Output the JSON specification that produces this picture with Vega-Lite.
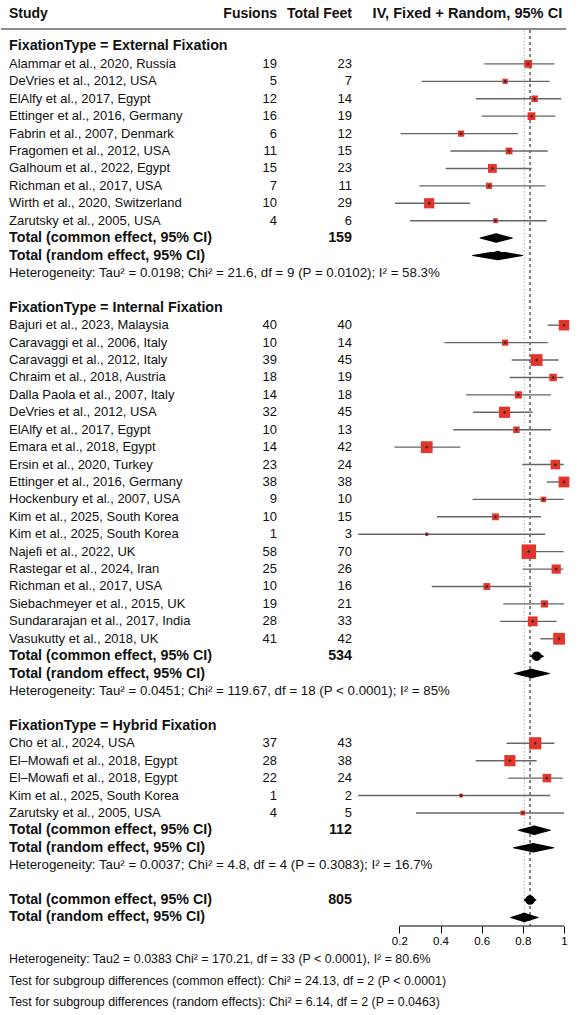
{
  "$schema": "https://vega.github.io/schema/vega-lite/v6.json",
  "background": "white",
  "padding": 0,
  "bounds": "flush",
  "spacing": 0,
  "config": {
    "view": {"stroke": null},
    "font": "Liberation Sans",
    "text": {"font": "Liberation Sans", "color": "#111111", "baseline": "middle"}
  },
  "resolve": {"scale": {"x": "independent", "y": "independent", "size": "independent"}},
  "datasets": {
    "rows": [
      {"kind": "group", "row": 0, "label": "FixationType = External Fixation"},
      {"kind": "study", "row": 1, "label": "Alammar et al., 2020, Russia", "fusions": 19, "total": 23, "est": 0.826, "lo": 0.613, "hi": 0.953, "weight": 2.34},
      {"kind": "study", "row": 2, "label": "DeVries et al., 2012, USA", "fusions": 5, "total": 7, "est": 0.714, "lo": 0.308, "hi": 0.930, "weight": 1.04},
      {"kind": "study", "row": 3, "label": "ElAlfy et al., 2017, Egypt", "fusions": 12, "total": 14, "est": 0.857, "lo": 0.572, "hi": 0.987, "weight": 1.63},
      {"kind": "study", "row": 4, "label": "Ettinger et al., 2016, Germany", "fusions": 16, "total": 19, "est": 0.842, "lo": 0.601, "hi": 0.958, "weight": 2.34},
      {"kind": "study", "row": 5, "label": "Fabrin et al., 2007, Denmark", "fusions": 6, "total": 12, "est": 0.500, "lo": 0.206, "hi": 0.776, "weight": 1.48},
      {"kind": "study", "row": 6, "label": "Fragomen et al., 2012, USA", "fusions": 11, "total": 15, "est": 0.733, "lo": 0.448, "hi": 0.921, "weight": 1.78},
      {"kind": "study", "row": 7, "label": "Galhoum et al., 2022, Egypt", "fusions": 15, "total": 23, "est": 0.652, "lo": 0.425, "hi": 0.843, "weight": 2.98},
      {"kind": "study", "row": 8, "label": "Richman et al., 2017, USA", "fusions": 7, "total": 11, "est": 0.636, "lo": 0.297, "hi": 0.909, "weight": 1.48},
      {"kind": "study", "row": 9, "label": "Wirth et al., 2020, Switzerland", "fusions": 10, "total": 29, "est": 0.345, "lo": 0.179, "hi": 0.543, "weight": 4.0},
      {"kind": "study", "row": 10, "label": "Zarutsky et al., 2005, USA", "fusions": 4, "total": 6, "est": 0.667, "lo": 0.252, "hi": 0.916, "weight": 0.89},
      {"kind": "total", "row": 11, "label": "Total (common effect, 95% CI)", "total": 159},
      {"kind": "total", "row": 12, "label": "Total (random effect, 95% CI)"},
      {"kind": "het", "row": 13, "label": "Heterogeneity: Tau² = 0.0198; Chi² = 21.6, df = 9 (P = 0.0102); I² = 58.3%"},
      {"kind": "group", "row": 15, "label": "FixationType = Internal Fixation"},
      {"kind": "study", "row": 16, "label": "Bajuri et al., 2023, Malaysia", "fusions": 40, "total": 40, "est": 1.0, "lo": 0.921, "hi": 1.0, "weight": 4.24},
      {"kind": "study", "row": 17, "label": "Caravaggi et al., 2006, Italy", "fusions": 10, "total": 14, "est": 0.714, "lo": 0.419, "hi": 0.921, "weight": 1.48},
      {"kind": "study", "row": 18, "label": "Caravaggi et al., 2012, Italy", "fusions": 39, "total": 45, "est": 0.867, "lo": 0.746, "hi": 0.974, "weight": 5.36},
      {"kind": "study", "row": 19, "label": "Chraim et al., 2018, Austria", "fusions": 18, "total": 19, "est": 0.947, "lo": 0.736, "hi": 0.997, "weight": 2.16},
      {"kind": "study", "row": 20, "label": "Dalla Paola et al., 2007, Italy", "fusions": 14, "total": 18, "est": 0.778, "lo": 0.524, "hi": 0.937, "weight": 2.0},
      {"kind": "study", "row": 21, "label": "DeVries et al., 2012, USA", "fusions": 32, "total": 45, "est": 0.711, "lo": 0.558, "hi": 0.848, "weight": 4.82},
      {"kind": "study", "row": 22, "label": "ElAlfy et al., 2017, Egypt", "fusions": 10, "total": 13, "est": 0.769, "lo": 0.462, "hi": 0.937, "weight": 1.63},
      {"kind": "study", "row": 23, "label": "Emara et al., 2018, Egypt", "fusions": 14, "total": 42, "est": 0.333, "lo": 0.176, "hi": 0.496, "weight": 5.36},
      {"kind": "study", "row": 24, "label": "Ersin et al., 2020, Turkey", "fusions": 23, "total": 24, "est": 0.958, "lo": 0.797, "hi": 0.999, "weight": 3.47},
      {"kind": "study", "row": 25, "label": "Ettinger et al., 2016, Germany", "fusions": 38, "total": 38, "est": 1.0, "lo": 0.916, "hi": 1.0, "weight": 4.49},
      {"kind": "study", "row": 26, "label": "Hockenbury et al., 2007, USA", "fusions": 9, "total": 10, "est": 0.9, "lo": 0.556, "hi": 0.998, "weight": 1.16},
      {"kind": "study", "row": 27, "label": "Kim et al., 2025, South Korea", "fusions": 10, "total": 15, "est": 0.667, "lo": 0.383, "hi": 0.888, "weight": 1.78},
      {"kind": "study", "row": 28, "label": "Kim et al., 2025, South Korea", "fusions": 1, "total": 3, "est": 0.333, "lo": 0.0, "hi": 0.909, "weight": 0.39},
      {"kind": "study", "row": 29, "label": "Najefi et al., 2022, UK", "fusions": 58, "total": 70, "est": 0.829, "lo": 0.80, "hi": 0.998, "weight": 8.09},
      {"kind": "study", "row": 30, "label": "Rastegar et al., 2024, Iran", "fusions": 25, "total": 26, "est": 0.962, "lo": 0.799, "hi": 0.997, "weight": 3.26},
      {"kind": "study", "row": 31, "label": "Richman et al., 2017, USA", "fusions": 10, "total": 16, "est": 0.625, "lo": 0.357, "hi": 0.843, "weight": 1.78},
      {"kind": "study", "row": 32, "label": "Siebachmeyer et al., 2015, UK", "fusions": 19, "total": 21, "est": 0.905, "lo": 0.705, "hi": 1.0, "weight": 2.0},
      {"kind": "study", "row": 33, "label": "Sundararajan et al., 2017, India", "fusions": 28, "total": 33, "est": 0.848, "lo": 0.689, "hi": 0.964, "weight": 3.69},
      {"kind": "study", "row": 34, "label": "Vasukutty et al., 2018, UK", "fusions": 41, "total": 42, "est": 0.976, "lo": 0.885, "hi": 1.0, "weight": 5.36},
      {"kind": "total", "row": 35, "label": "Total (common effect, 95% CI)", "total": 534},
      {"kind": "total", "row": 36, "label": "Total (random effect, 95% CI)"},
      {"kind": "het", "row": 37, "label": "Heterogeneity: Tau² = 0.0451; Chi² = 119.67, df = 18 (P < 0.0001); I² = 85%"},
      {"kind": "group", "row": 39, "label": "FixationType = Hybrid Fixation"},
      {"kind": "study", "row": 40, "label": "Cho et al., 2024, USA", "fusions": 37, "total": 43, "est": 0.860, "lo": 0.721, "hi": 0.953, "weight": 5.72},
      {"kind": "study", "row": 41, "label": "El–Mowafi et al., 2018, Egypt", "fusions": 28, "total": 38, "est": 0.737, "lo": 0.571, "hi": 0.867, "weight": 4.82},
      {"kind": "study", "row": 42, "label": "El–Mowafi et al., 2018, Egypt", "fusions": 22, "total": 24, "est": 0.917, "lo": 0.729, "hi": 0.994, "weight": 2.78},
      {"kind": "study", "row": 43, "label": "Kim et al., 2025, South Korea", "fusions": 1, "total": 2, "est": 0.5, "lo": 0.0, "hi": 0.934, "weight": 0.56},
      {"kind": "study", "row": 44, "label": "Zarutsky et al., 2005, USA", "fusions": 4, "total": 5, "est": 0.8, "lo": 0.281, "hi": 1.0, "weight": 0.89},
      {"kind": "total", "row": 45, "label": "Total (common effect, 95% CI)", "total": 112},
      {"kind": "total", "row": 46, "label": "Total (random effect, 95% CI)"},
      {"kind": "het", "row": 47, "label": "Heterogeneity: Tau² = 0.0037; Chi² = 4.8, df = 4 (P = 0.3083); I² = 16.7%"},
      {"kind": "total", "row": 49, "label": "Total (common effect, 95% CI)", "total": 805},
      {"kind": "total", "row": 50, "label": "Total (random effect, 95% CI)"},
      {"kind": "note", "row": 52.4, "label": "Heterogeneity: Tau2 = 0.0383 Chi² = 170.21, df = 33 (P < 0.0001), I² = 80.6%"},
      {"kind": "note", "row": 53.63, "label": "Test for subgroup differences (common effect): Chi² = 24.13, df = 2 (P < 0.0001)"},
      {"kind": "note", "row": 54.83, "label": "Test for subgroup differences (random effects): Chi² = 6.14, df = 2 (P = 0.0463)"}
    ],
    "pooled": [
      {"id": "external", "model": "common", "row": 11, "lo": 0.592, "est": 0.670, "hi": 0.749},
      {"id": "external", "model": "random", "row": 12, "lo": 0.556, "est": 0.678, "hi": 0.799},
      {"id": "internal", "model": "common", "row": 35, "lo": 0.838, "est": 0.867, "hi": 0.900},
      {"id": "internal", "model": "random", "row": 36, "lo": 0.759, "est": 0.843, "hi": 0.929},
      {"id": "hybrid", "model": "common", "row": 45, "lo": 0.778, "est": 0.856, "hi": 0.934},
      {"id": "hybrid", "model": "random", "row": 46, "lo": 0.754, "est": 0.851, "hi": 0.950},
      {"id": "overall", "model": "common", "row": 49, "lo": 0.806, "est": 0.835, "hi": 0.864},
      {"id": "overall", "model": "random", "row": 50, "lo": 0.741, "est": 0.807, "hi": 0.874}
    ]
  },
  "hconcat": [
    {
      "width": 200,
      "height": 926,
      "layer": [
        {
          "data": {"values": [{}]},
          "mark": {"type": "rule", "color": "#8c8c8c", "strokeWidth": 2},
          "encoding": {
            "y": {"datum": -1.0, "type": "quantitative", "scale": {"domain": [-2.669, 50.49], "nice": false, "zero": false, "reverse": true}, "axis": null}
          }
        },
        {
          "data": {"values": [{}]},
          "mark": {"type": "text", "text": "Study", "align": "left", "dx": 8, "fontSize": 14, "fontWeight": "bold"},
          "encoding": {
            "x": {"datum": 0, "type": "quantitative", "scale": {"domain": [0, 1]}, "axis": null},
            "y": {"datum": -1.87, "type": "quantitative", "scale": {"domain": [-2.669, 50.49], "nice": false, "zero": false, "reverse": true}, "axis": null}
          }
        },
        {
          "data": {"name": "rows"},
          "transform": [{"filter": "datum.kind === 'group' || datum.kind === 'total'"}],
          "mark": {"type": "text", "align": "left", "dx": 8, "fontSize": 14.3, "fontWeight": "bold"},
          "encoding": {
            "x": {"datum": 0, "type": "quantitative", "scale": {"domain": [0, 1]}, "axis": null},
            "y": {"field": "row", "type": "quantitative", "scale": {"domain": [-2.669, 50.49], "nice": false, "zero": false, "reverse": true}, "axis": null},
            "text": {"field": "label"}
          }
        },
        {
          "data": {"name": "rows"},
          "transform": [{"filter": "datum.kind === 'study'"}],
          "mark": {"type": "text", "align": "left", "dx": 8, "fontSize": 13},
          "encoding": {
            "x": {"datum": 0, "type": "quantitative", "scale": {"domain": [0, 1]}, "axis": null},
            "y": {"field": "row", "type": "quantitative", "scale": {"domain": [-2.669, 50.49], "nice": false, "zero": false, "reverse": true}, "axis": null},
            "text": {"field": "label"}
          }
        },
        {
          "data": {"name": "rows"},
          "transform": [{"filter": "datum.kind === 'het'"}],
          "mark": {"type": "text", "align": "left", "dx": 8, "fontSize": 13.3},
          "encoding": {
            "x": {"datum": 0, "type": "quantitative", "scale": {"domain": [0, 1]}, "axis": null},
            "y": {"field": "row", "type": "quantitative", "scale": {"domain": [-2.669, 50.49], "nice": false, "zero": false, "reverse": true}, "axis": null},
            "text": {"field": "label"}
          }
        },
        {
          "data": {"name": "rows"},
          "transform": [{"filter": "datum.kind === 'note'"}],
          "mark": {"type": "text", "align": "left", "dx": 8, "fontSize": 12.4},
          "encoding": {
            "x": {"datum": 0, "type": "quantitative", "scale": {"domain": [0, 1]}, "axis": null},
            "y": {"field": "row", "type": "quantitative", "scale": {"domain": [-2.669, 50.49], "nice": false, "zero": false, "reverse": true}, "axis": null},
            "text": {"field": "label"}
          }
        }
      ]
    },
    {
      "width": 76,
      "height": 926,
      "layer": [
        {
          "data": {"values": [{}]},
          "mark": {"type": "rule", "color": "#8c8c8c", "strokeWidth": 2},
          "encoding": {
            "y": {"datum": -1.0, "type": "quantitative", "scale": {"domain": [-2.669, 50.49], "nice": false, "zero": false, "reverse": true}, "axis": null}
          }
        },
        {
          "data": {"values": [{}]},
          "mark": {"type": "text", "text": "Fusions", "align": "right", "fontSize": 14, "fontWeight": "bold"},
          "encoding": {
            "x": {"datum": 1, "type": "quantitative", "scale": {"domain": [0, 1]}, "axis": null},
            "y": {"datum": -1.87, "type": "quantitative", "scale": {"domain": [-2.669, 50.49], "nice": false, "zero": false, "reverse": true}, "axis": null}
          }
        },
        {
          "data": {"name": "rows"},
          "transform": [{"filter": "datum.kind === 'study'"}],
          "mark": {"type": "text", "align": "right", "fontSize": 13},
          "encoding": {
            "x": {"datum": 1, "type": "quantitative", "scale": {"domain": [0, 1]}, "axis": null},
            "y": {"field": "row", "type": "quantitative", "scale": {"domain": [-2.669, 50.49], "nice": false, "zero": false, "reverse": true}, "axis": null},
            "text": {"field": "fusions"}
          }
        }
      ]
    },
    {
      "width": 75,
      "height": 926,
      "layer": [
        {
          "data": {"values": [{}]},
          "mark": {"type": "rule", "color": "#8c8c8c", "strokeWidth": 2},
          "encoding": {
            "y": {"datum": -1.0, "type": "quantitative", "scale": {"domain": [-2.669, 50.49], "nice": false, "zero": false, "reverse": true}, "axis": null}
          }
        },
        {
          "data": {"values": [{}]},
          "mark": {"type": "text", "text": "Total Feet", "align": "right", "fontSize": 14, "fontWeight": "bold"},
          "encoding": {
            "x": {"datum": 1, "type": "quantitative", "scale": {"domain": [0, 1]}, "axis": null},
            "y": {"datum": -1.87, "type": "quantitative", "scale": {"domain": [-2.669, 50.49], "nice": false, "zero": false, "reverse": true}, "axis": null}
          }
        },
        {
          "data": {"name": "rows"},
          "transform": [{"filter": "datum.kind === 'study'"}],
          "mark": {"type": "text", "align": "right", "fontSize": 13},
          "encoding": {
            "x": {"datum": 1, "type": "quantitative", "scale": {"domain": [0, 1]}, "axis": null},
            "y": {"field": "row", "type": "quantitative", "scale": {"domain": [-2.669, 50.49], "nice": false, "zero": false, "reverse": true}, "axis": null},
            "text": {"field": "total"}
          }
        },
        {
          "data": {"name": "rows"},
          "transform": [{"filter": "datum.kind === 'total' && isValid(datum.total)"}],
          "mark": {"type": "text", "align": "right", "fontSize": 14.3, "fontWeight": "bold"},
          "encoding": {
            "x": {"datum": 1, "type": "quantitative", "scale": {"domain": [0, 1]}, "axis": null},
            "y": {"field": "row", "type": "quantitative", "scale": {"domain": [-2.669, 50.49], "nice": false, "zero": false, "reverse": true}, "axis": null},
            "text": {"field": "total"}
          }
        }
      ]
    },
    {
      "width": 228,
      "height": 926,
      "layer": [
        {
          "data": {"values": [{}]},
          "mark": {"type": "text", "text": "IV, Fixed + Random, 95% CI", "align": "left", "fontSize": 14.6, "fontWeight": "bold"},
          "encoding": {
            "x": {"datum": 0.07, "type": "quantitative", "scale": {"domain": [-0.0301, 1.0777], "nice": false, "zero": false}, "axis": {"values": [0.2, 0.4, 0.6, 0.8, 1], "format": "~g", "domain": false, "grid": false, "tickSize": 7, "tickColor": "black", "tickWidth": 1, "labelFontSize": 11.5, "labelColor": "black", "labelPadding": 2, "labelFont": "Liberation Sans", "title": null}},
            "y": {"datum": -1.87, "type": "quantitative", "scale": {"domain": [-2.669, 50.49], "nice": false, "zero": false, "reverse": true}, "axis": null}
          }
        },
        {
          "data": {"values": [{}]},
          "mark": {"type": "rule", "color": "#8c8c8c", "strokeWidth": 2},
          "encoding": {
            "x": {"datum": -0.0301, "type": "quantitative"},
            "x2": {"datum": 1.01},
            "y": {"datum": -1.0, "type": "quantitative"}
          }
        },
        {
          "data": {"name": "pooled"},
          "transform": [{"filter": "datum.id === 'overall' && datum.model === 'random'"}],
          "mark": {"type": "rule", "color": "#b0b0b0", "strokeWidth": 1, "strokeDash": [1.5, 2]},
          "encoding": {
            "x": {"field": "est", "type": "quantitative"},
            "y": {"datum": -0.95, "type": "quantitative"},
            "y2": {"datum": 50.49}
          }
        },
        {
          "data": {"name": "pooled"},
          "transform": [{"filter": "datum.id === 'overall' && datum.model === 'common'"}],
          "mark": {"type": "rule", "color": "#333333", "strokeWidth": 1.2, "strokeDash": [3, 3]},
          "encoding": {
            "x": {"field": "est", "type": "quantitative"},
            "y": {"datum": -0.95, "type": "quantitative"},
            "y2": {"datum": 50.49}
          }
        },
        {
          "data": {"name": "rows"},
          "transform": [{"filter": "datum.kind === 'study'"}],
          "mark": {"type": "rule", "color": "#666666", "strokeWidth": 1.4},
          "encoding": {
            "x": {"field": "lo", "type": "quantitative"},
            "x2": {"field": "hi"},
            "y": {"field": "row", "type": "quantitative"}
          }
        },
        {
          "data": {"name": "rows"},
          "transform": [{"filter": "datum.kind === 'study'"}],
          "mark": {"type": "square", "color": "#e3352b", "opacity": 1},
          "encoding": {
            "x": {"field": "est", "type": "quantitative"},
            "y": {"field": "row", "type": "quantitative"},
            "size": {"field": "weight", "type": "quantitative", "scale": {"domain": [0, 10], "range": [0, 260]}, "legend": null}
          }
        },
        {
          "data": {"name": "rows"},
          "transform": [{"filter": "datum.kind === 'study'"}],
          "mark": {"type": "point", "shape": "cross", "filled": true, "size": 8, "color": "#2a2a2a", "opacity": 1},
          "encoding": {
            "x": {"field": "est", "type": "quantitative"},
            "y": {"field": "row", "type": "quantitative"}
          }
        },
        {
          "data": {"name": "pooled"},
          "transform": [{"fold": ["lo", "est", "hi"], "as": ["vertex", "xv"]}],
          "mark": {"type": "trail", "color": "black"},
          "encoding": {
            "x": {"field": "xv", "type": "quantitative"},
            "y": {"field": "row", "type": "quantitative"},
            "detail": [{"field": "id"}, {"field": "model"}],
            "order": {"field": "xv", "type": "quantitative"},
            "size": {"field": "vertex", "type": "ordinal", "scale": {"type": "ordinal", "domain": ["lo", "est", "hi"], "range": [0, 9.5, 0]}, "legend": null}
          }
        },
        {
          "data": {"values": [{}]},
          "mark": {"type": "rule", "color": "black", "strokeWidth": 1},
          "encoding": {
            "x": {"datum": 0.2, "type": "quantitative"},
            "x2": {"datum": 1},
            "y": {"datum": 50.49, "type": "quantitative"}
          }
        }
      ]
    }
  ]
}
